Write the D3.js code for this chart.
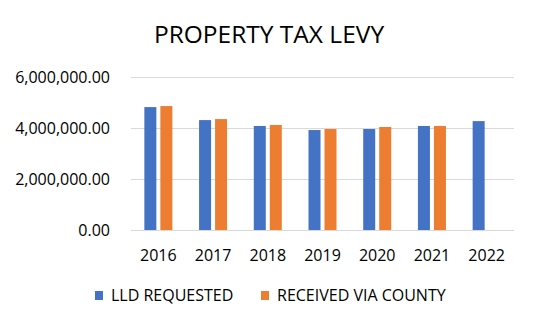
<!DOCTYPE html>
<html>
<head>
<meta charset="utf-8">
<script src="https://cdn.jsdelivr.net/npm/d3@7"></script>
<style>
  body { margin: 0; background: #fff; }
  text { font-family: "Open Sans", "Liberation Sans", sans-serif; fill: #000; }
</style>
</head>
<body>
<div id="chart"></div>
<script>
const years = ['2016', '2017', '2018', '2019', '2020', '2021', '2022'];
const series = ['LLD REQUESTED', 'RECEIVED VIA COUNTY'];
const requested = [4820000, 4310000, 4080000, 3920000, 3960000, 4080000, 4270000];
const received = [4860000, 4350000, 4120000, 3960000, 4040000, 4080000, null];
const colors = ['#4472c4', '#ed7d31'];
const yTicks = [0, 2000000, 4000000, 6000000];

const W = 537, H = 326;
const margin = { top: 77, right: 23, bottom: 96, left: 131 };
const width = W - margin.left - margin.right;
const height = H - margin.top - margin.bottom;

const svg = d3.select('#chart')
    .append('svg')
    .attr('width', W)
    .attr('height', H);

svg.append('text')
    .attr('x', 269)
    .attr('y', 43)
    .attr('text-anchor', 'middle')
    .style('font-size', '24.5px')
    .text('PROPERTY TAX LEVY');

const g = svg.append('g')
    .attr('transform', `translate(${margin.left},${margin.top})`);

const x0 = d3.scaleBand().domain(years).range([0, width]);
const groupW = 28;
const x1 = d3.scaleBand().domain(series).range([0, groupW]).paddingInner(0.25);
const y = d3.scaleLinear().domain([0, 6000000]).range([height, 0]);

// gridlines
g.append('g')
    .selectAll('line')
    .data(yTicks)
    .join('line')
    .attr('x1', 0)
    .attr('x2', width)
    .attr('y1', d => Math.round(y(d)) + 0.5)
    .attr('y2', d => Math.round(y(d)) + 0.5)
    .attr('stroke', '#d9d9d9')
    .attr('stroke-width', 1);

// y labels
g.append('g')
    .selectAll('text')
    .data(yTicks)
    .join('text')
    .attr('x', -21)
    .attr('y', d => y(d))
    .attr('dy', '0.36em')
    .attr('text-anchor', 'end')
    .style('font-size', '16px')
    .text(d => d3.format(',.2f')(d));

const rows = years.map((yr, i) => ({ year: yr, values: [requested[i], received[i]] }));

const groups = g.selectAll('.grp')
    .data(rows)
    .join('g')
    .attr('class', 'grp')
    .attr('transform', d => `translate(${x0(d.year) + (x0.bandwidth() - groupW) / 2},0)`);

groups.selectAll('rect')
    .data(d => d.values.map((v, j) => ({ key: series[j], v, j })).filter(e => e.v != null))
    .join('rect')
    .attr('x', d => x1(d.key))
    .attr('width', x1.bandwidth())
    .attr('y', d => y(d.v))
    .attr('height', d => height - y(d.v))
    .attr('fill', d => colors[d.j]);

// x labels
g.append('g')
    .selectAll('text')
    .data(years)
    .join('text')
    .attr('x', d => x0(d) + x0.bandwidth() / 2)
    .attr('y', height + 31)
    .attr('text-anchor', 'middle')
    .style('font-size', '16px')
    .text(d => d);

// legend
const legend = svg.append('g').attr('transform', 'translate(95,301)');
const legendX = [0, 166];
series.forEach((s, i) => {
    const item = legend.append('g').attr('transform', `translate(${legendX[i]},0)`);
    item.append('rect')
        .attr('x', 0).attr('y', -10)
        .attr('width', 8).attr('height', 9)
        .attr('fill', colors[i]);
    item.append('text')
        .attr('x', 16)
        .attr('y', 0)
        .style('font-size', '16px')
        .text(s);
});
</script>
</body>
</html>
